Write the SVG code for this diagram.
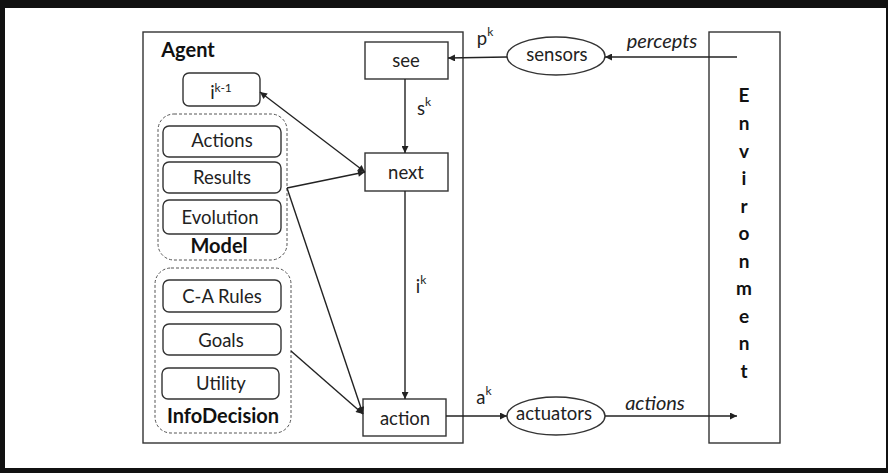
<svg xmlns="http://www.w3.org/2000/svg" width="888" height="473" viewBox="0 0 888 473">
<defs>
<marker id="ah" viewBox="0 0 10 10" refX="10" refY="5" markerWidth="9" markerHeight="7" markerUnits="userSpaceOnUse" orient="auto-start-reverse"><path d="M0,0 L10,5 L0,10 z" fill="#222"/></marker>
<style>
.box{fill:#fff;stroke:#333;stroke-width:1.4}
.rb{fill:#fff;stroke:#333;stroke-width:1.4}
.dash{fill:none;stroke:#555;stroke-width:1;stroke-dasharray:3,2}
.t{font-family:Lato,"Open Sans",sans-serif;font-size:18.5px;fill:#222;text-anchor:middle}
.b{font-family:Lato,"Open Sans",sans-serif;font-size:20px;font-weight:bold;fill:#111;text-anchor:middle}
.e{font-size:19px}
.i{font-style:italic;font-size:20px}
.s{font-size:12px}
.c{fill:none;stroke:#222;stroke-width:1.4;marker-end:url(#ah)}
</style>
</defs>
<rect x="0" y="0" width="888" height="473" fill="#111"/>
<rect x="5" y="8" width="881" height="460" fill="#fff"/>
<g id="agent">
<rect class="box" x="143" y="32" width="320" height="411"/>
<text class="b" x="188" y="57">Agent</text>
</g>
<g id="see"><rect class="box" x="365" y="42" width="83" height="37"/><text class="t" x="406" y="67">see</text></g>
<g id="next"><rect class="box" x="365" y="153" width="83" height="38"/><text class="t" x="406" y="179">next</text></g>
<g id="action"><rect class="box" x="363" y="399" width="83" height="37"/><text class="t" x="405" y="425">action</text></g>
<g id="ikm1"><rect class="rb" x="183" y="73" width="77" height="33" rx="6"/><text class="t" x="221" y="99">i<tspan class="s" dy="-7">k-1</tspan></text></g>
<g id="model">
<rect class="dash" x="158" y="114" width="129" height="146" rx="16"/>
<rect class="rb" x="163" y="126" width="118" height="31" rx="6"/><text class="t" x="222" y="147">Actions</text>
<rect class="rb" x="163" y="162" width="118" height="31" rx="6"/><text class="t" x="222" y="184">Results</text>
<rect class="rb" x="163" y="200" width="118" height="34" rx="6"/><text class="t" x="220" y="224">Evolution</text>
<text class="b" x="219" y="253">Model</text>
</g>
<g id="infodecision">
<rect class="dash" x="155" y="268" width="136" height="165" rx="16"/>
<rect class="rb" x="163" y="280" width="118" height="32" rx="6"/><text class="t" x="222" y="303">C-A Rules</text>
<rect class="rb" x="163" y="324" width="118" height="31" rx="6"/><text class="t" x="221" y="347">Goals</text>
<rect class="rb" x="162" y="368" width="117" height="31" rx="6"/><text class="t" x="221" y="390">Utility</text>
<text class="b" x="223" y="423">InfoDecision</text>
</g>
<g id="sensors"><ellipse class="box" cx="556" cy="56" rx="49" ry="19"/><text class="t" x="557" y="61">sensors</text></g>
<g id="actuators"><ellipse class="box" cx="556" cy="416" rx="49" ry="19"/><text class="t" x="554" y="420">actuators</text></g>
<g id="environment">
<rect class="box" x="709" y="32" width="71" height="411"/>
<text class="b e" x="744" y="102">E</text>
<text class="b e" x="744" y="130">n</text>
<text class="b e" x="744" y="158">v</text>
<text class="b e" x="744" y="185">i</text>
<text class="b e" x="744" y="213">r</text>
<text class="b e" x="744" y="240">o</text>
<text class="b e" x="744" y="268">n</text>
<text class="b e" x="744" y="295">m</text>
<text class="b e" x="744" y="323">e</text>
<text class="b e" x="744" y="350">n</text>
<text class="b e" x="744" y="378">t</text>
</g>
<g id="connectors">
<line class="c" x1="737" y1="57" x2="605" y2="57"/>
<line class="c" x1="507" y1="57" x2="448" y2="58"/>
<line class="c" x1="405" y1="79" x2="405" y2="153"/>
<line class="c" x1="405" y1="191" x2="405" y2="399"/>
<line class="c" x1="260" y1="92" x2="365" y2="172" marker-start="url(#ah)"/>
<line class="c" x1="287" y1="188" x2="365" y2="172"/>
<line class="c" x1="287" y1="188" x2="363" y2="414"/>
<line class="c" x1="291" y1="351" x2="363" y2="414"/>
<line class="c" x1="446" y1="416" x2="507" y2="416"/>
<line class="c" x1="605" y1="416" x2="737" y2="416"/>
<text class="t" x="485" y="45">p<tspan class="s" dy="-9">k</tspan></text>
<text class="t" x="662" y="48"><tspan class="i">percepts</tspan></text>
<text class="t" x="424" y="115">s<tspan class="s" dy="-9">k</tspan></text>
<text class="t" x="421" y="293">i<tspan class="s" dy="-9">k</tspan></text>
<text class="t" x="484" y="404">a<tspan class="s" dy="-9">k</tspan></text>
<text class="t" x="655" y="410"><tspan class="i">actions</tspan></text>
</g>
</svg>
